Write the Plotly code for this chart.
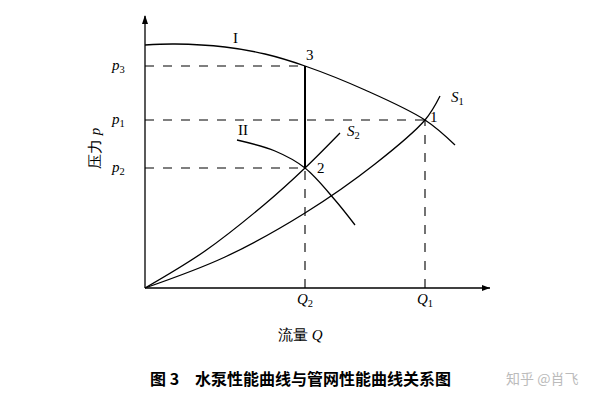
import plotly.graph_objects as go

# curve points (x = flow, y = pressure, arbitrary units)
pump_I_x = [0, 30, 80, 120, 160, 220, 280, 310]
pump_I_y = [243, 244, 241, 234, 222, 198, 168, 143]
pump_II_x = [92, 130, 160, 190, 210]
pump_II_y = [148, 137, 120, 88, 63]
pipe_S1_x = [0, 80, 160, 230, 280, 295]
pipe_S1_y = [0, 31, 75, 124, 168, 192]
pipe_S2_x = [0, 60, 120, 160, 195]
pipe_S2_y = [0, 37, 84, 120, 155]

Q2, Q1 = 160, 280
p3, p1, p2 = 222, 168, 120

serif = "Liberation Serif"
line = dict(color="black", width=1.3)
dash = dict(color="black", width=1.1, dash="dash")

fig = go.Figure()
for xs, ys in [(pump_I_x, pump_I_y), (pump_II_x, pump_II_y),
               (pipe_S1_x, pipe_S1_y), (pipe_S2_x, pipe_S2_y)]:
    fig.add_trace(go.Scatter(x=xs, y=ys, mode="lines", line=dict(color="black", width=1.3, shape="spline"),
                             hoverinfo="skip"))

shapes = [
    dict(type="line", x0=0, y0=0, x1=345, y1=0, line=line),
    dict(type="line", x0=0, y0=0, x1=0, y1=272, line=line),
    dict(type="line", x0=0, y0=p3, x1=Q2, y1=p3, line=dash),
    dict(type="line", x0=0, y0=p1, x1=Q1, y1=p1, line=dash),
    dict(type="line", x0=0, y0=p2, x1=Q2, y1=p2, line=dash),
    dict(type="line", x0=Q2, y0=0, x1=Q2, y1=p2, line=dash),
    dict(type="line", x0=Q1, y0=0, x1=Q1, y1=p1, line=dash),
    dict(type="line", x0=Q2, y0=p2, x1=Q2, y1=p3, line=dict(color="black", width=2)),
    dict(type="path", path="M 345 0 L 337 3 L 337 -3 Z", fillcolor="black", line=dict(width=0)),
    dict(type="path", path="M 0 273 L -3 264 L 3 264 Z", fillcolor="black", line=dict(width=0)),
]

labels = [
    (90, 250, "I"), (165, 233, "3"), (312, 190, "<i>S</i><sub>1</sub>"), (289, 171, "1"),
    (98, 158, "II"), (208, 156, "<i>S</i><sub>2</sub>"), (176, 120, "2"),
    (-27, p3, "<i>p</i><sub>3</sub>"), (-27, p1, "<i>p</i><sub>1</sub>"), (-27, p2, "<i>p</i><sub>2</sub>"),
    (Q2, -12, "<i>Q</i><sub>2</sub>"), (Q1, -12, "<i>Q</i><sub>1</sub>"),
    (155, -47, "流量 <i>Q</i>"),
]
ann = [dict(x=x, y=y, text=t, showarrow=False, font=dict(family=serif, size=15, color="black"))
       for x, y, t in labels]
ann.append(dict(x=-50, y=140, text="压力 <i>p</i>", textangle=-90, showarrow=False,
                font=dict(family=serif, size=15, color="black")))
ann.append(dict(x=155, y=-90, text="<b>图 3　水泵性能曲线与管网性能曲线关系图</b>", showarrow=False,
                font=dict(family="Noto Sans CJK SC", size=16, color="black")))
ann.append(dict(x=397, y=-90, text="知乎 @肖飞", showarrow=False,
                font=dict(family="Noto Sans CJK SC", size=14, color="#bbbbbb")))

fig.update_layout(
    width=594, height=405, margin=dict(l=0, r=0, t=0, b=0),
    plot_bgcolor="white", paper_bgcolor="white", showlegend=False,
    xaxis=dict(range=[-137, 457], visible=False, fixedrange=True),
    yaxis=dict(range=[-125, 280], visible=False, fixedrange=True),
    shapes=shapes, annotations=ann,
)
fig.write_html("out.html")
